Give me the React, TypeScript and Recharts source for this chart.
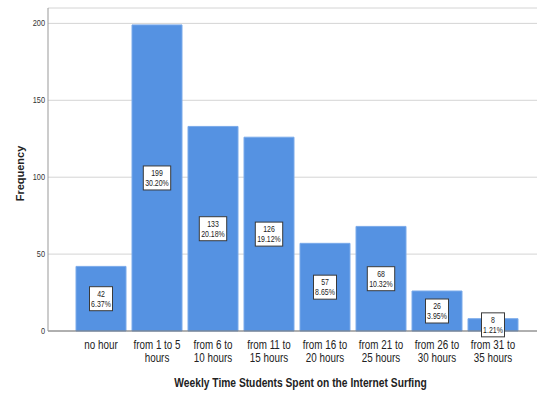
import React from "react";
import { BarChart, Bar, XAxis, YAxis, CartesianGrid, LabelList, Label } from "recharts";

// Weekly internet surfing time bands (line breaks mark tick wrapping)
const categories = [
  "no hour",
  "from 1 to 5\nhours",
  "from 6 to\n10 hours",
  "from 11 to\n15 hours",
  "from 16 to\n20 hours",
  "from 21 to\n25 hours",
  "from 26 to\n30 hours",
  "from 31 to\n35 hours",
];
const frequencies = [42, 199, 133, 126, 57, 68, 26, 8];
const percentages = ["6.37%", "30.20%", "20.18%", "19.12%", "8.65%", "10.32%", "3.95%", "1.21%"];
const yTicks = [0, 50, 100, 150, 200];

const data = categories.map((c, i) => ({
  category: c,
  frequency: frequencies[i],
  pct: percentages[i],
}));

const SANS = "'Liberation Sans', Arial, sans-serif";
const BAR_COLOR = "#5592e2";
const SQUEEZE = 0.82;

// Horizontally condensed text, emulating a narrow face
const NarrowText = ({ x, y, anchor = "middle", size, weight = "normal", fill = "#222", children }: any) => (
  <g transform={`translate(${x},${y}) scale(${SQUEEZE},1)`}>
    <text x={0} y={0} textAnchor={anchor} fontFamily={SANS} fontSize={size} fontWeight={weight} fill={fill}>
      {children}
    </text>
  </g>
);

const CategoryTick = (props: any) => {
  const { x, y, payload } = props;
  const lines = String(payload.value).split("\n");
  return (
    <g>
      {lines.map((ln, i) => (
        <NarrowText key={i} x={x} y={y + 18 + i * 13} size={12}>
          {ln}
        </NarrowText>
      ))}
    </g>
  );
};

const ValueTick = (props: any) => {
  const { x, y, payload } = props;
  return (
    <NarrowText x={x} y={y + 3} anchor="end" size={9} fill="#333">
      {payload.value}
    </NarrowText>
  );
};

const XTitle = (props: any) => {
  const { viewBox } = props;
  const cx = viewBox.x + viewBox.width / 2;
  return (
    <NarrowText x={cx + 8} y={387} size={12.5} weight="bold">
      Weekly Time Students Spent on the Internet Surfing
    </NarrowText>
  );
};

const ValueBox = (props: any) => {
  const { x, y, width, height, index } = props;
  const count = String(frequencies[index]);
  const pct = percentages[index];
  const chars = Math.max(count.length, pct.length);
  const w = chars * 4.4 + 1;
  const h = 24;
  const cx = x + width / 2;
  const cy = y + height / 2;
  return (
    <g>
      <rect
        x={cx - w / 2}
        y={cy - h / 2}
        width={w}
        height={h}
        fill="#fff"
        stroke="#3a3a3a"
        strokeWidth={1}
      />
      <NarrowText x={cx} y={cy - 2} size={8.5}>
        {count}
      </NarrowText>
      <NarrowText x={cx} y={cy + 8} size={8.5}>
        {pct}
      </NarrowText>
    </g>
  );
};

export default function App() {
  return (
    <div style={{ position: "absolute", left: 0, top: 0, background: "#fff" }}>
      <BarChart
        width={538}
        height={396}
        data={data}
        margin={{ top: 8, right: 1, bottom: 0, left: 0 }}
        barSize={50}
      >
        <CartesianGrid vertical={false} stroke="#d4d4d4" strokeWidth={1} />
        <XAxis
          dataKey="category"
          tickLine={false}
          tickSize={0}
          tickMargin={0}
          axisLine={{ stroke: "#777" }}
          interval={0}
          height={65}
          padding={{ left: 25, right: 16 }}
          tick={<CategoryTick />}
          label={<XTitle />}
        />
        <YAxis
          width={48}
          domain={[0, 210]}
          ticks={yTicks}
          tickLine={false}
          tickSize={0}
          tickMargin={3}
          axisLine={{ stroke: "#999" }}
          tick={<ValueTick />}
        >
          <Label
            value="Frequency"
            angle={-90}
            position="insideLeft"
            offset={20}
            dy={4}
            style={{ fontFamily: SANS, fontSize: 11, fontWeight: "bold", fill: "#222", textAnchor: "middle" }}
          />
        </YAxis>
        <Bar dataKey="frequency" fill={BAR_COLOR} stroke="#7aaaea" strokeWidth={1} isAnimationActive={false}>
          <LabelList dataKey="frequency" content={<ValueBox />} />
        </Bar>
      </BarChart>
    </div>
  );
}
